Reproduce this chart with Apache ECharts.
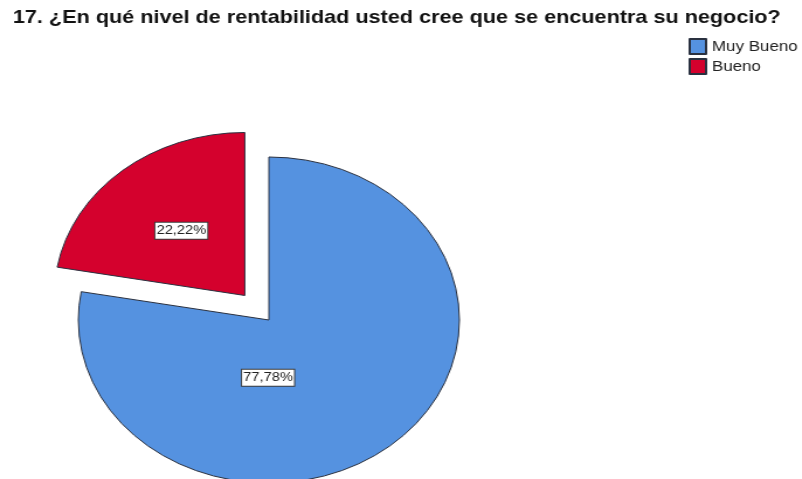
<!DOCTYPE html>
<html>
<head>
<meta charset="utf-8">
<script src="https://cdn.jsdelivr.net/npm/echarts@6/dist/echarts.min.js"></script>
<style>
  html, body { margin: 0; padding: 0; background: #ffffff; overflow: hidden; }
  #wrap { width: 802px; height: 479px; overflow: hidden; }
  /* the chart is laid out on a narrower canvas and widened horizontally */
  #chart { width: 686px; height: 479px; transform: scaleX(1.169); transform-origin: 0 0; }
</style>
</head>
<body>
<div id="wrap"><div id="chart"></div></div>
<script>
const titleText = '17. ¿En qué nivel de rentabilidad usted cree que se encuentra su negocio?';
const categories = ['Muy Bueno', 'Bueno'];
const percentages = [77.78, 22.22];
const colors = ['#5592e0', '#d4012d'];
const explodedIndex = 1;
const labelShifts = [[-55, -7], [-3, -17]];

const chart = echarts.init(document.getElementById('chart'), null, { renderer: 'canvas' });

const data = categories.map((name, i) => ({
  name: name,
  value: percentages[i],
  selected: i === explodedIndex,
  itemStyle: { color: colors[i] },
  label: { offset: labelShifts[i] }
}));

chart.setOption({
  animation: false,
  backgroundColor: '#ffffff',
  title: {
    text: titleText,
    left: 6,
    top: 3,
    textStyle: {
      fontFamily: 'Liberation Sans, Arial, sans-serif',
      fontSize: 18.5,
      fontWeight: 'bold',
      color: '#111111'
    }
  },
  legend: {
    orient: 'vertical',
    left: 584,
    top: 33,
    itemWidth: 14,
    itemHeight: 15,
    itemGap: 3,
    icon: 'rect',
    data: categories,
    textStyle: {
      fontFamily: 'Liberation Sans, Arial, sans-serif',
      fontSize: 14.5,
      color: '#222222'
    }
  },
  series: [{
    type: 'pie',
    center: [230, 320],
    radius: 163,
    startAngle: 90,
    clockwise: true,
    selectedMode: 'single',
    selectedOffset: 32,
    emphasis: { disabled: true },
    itemStyle: { borderColor: '#2a3140', borderWidth: 1 },
    label: {
      show: true,
      position: 'inside',
      formatter: p => p.value.toFixed(2).replace('.', ',') + '%',
      fontFamily: 'Liberation Sans, Arial, sans-serif',
      fontSize: 12.5,
      color: '#222222',
      backgroundColor: '#ffffff',
      borderColor: '#3a3a3a',
      borderWidth: 1,
      padding: [2, 1, 1, 1]
    },
    labelLine: { show: false },
    data: data
  }]
});
</script>
</body>
</html>
